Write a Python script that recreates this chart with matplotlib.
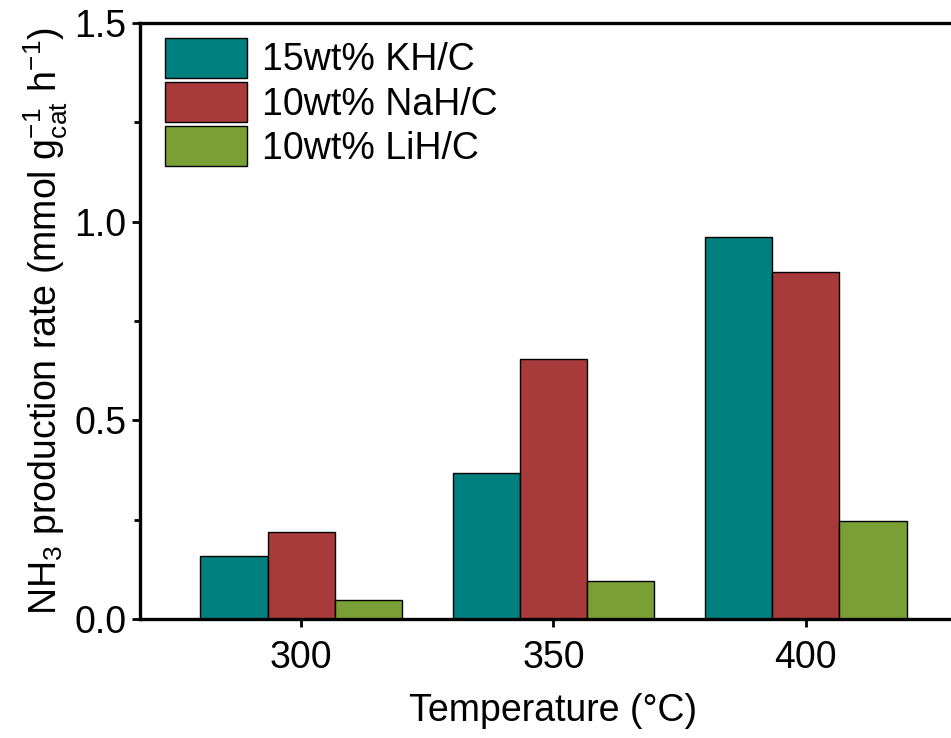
import numpy as np
import matplotlib
matplotlib.use("Agg")
import matplotlib.pyplot as plt

plt.rcParams['font.family'] = ['Liberation Sans', 'DejaVu Sans']
plt.rcParams['mathtext.fontset'] = 'custom'
plt.rcParams['mathtext.rm'] = 'Liberation Sans'
plt.rcParams['mathtext.it'] = 'Liberation Sans'
plt.rcParams['mathtext.default'] = 'regular'

# data
temps = ['300', '350', '400']
kh = [0.159, 0.367, 0.961]
nah = [0.220, 0.654, 0.873]
lih = [0.048, 0.096, 0.247]
labels = ['15wt% KH/C', '10wt% NaH/C', '10wt% LiH/C']
colors = ['#007F7F', '#A83A3B', '#7AA035']

fig = plt.figure(figsize=(9.51, 7.38), dpi=100)
ax = fig.add_axes([0.147, 0.161, 0.870, 0.808])

x = np.arange(len(temps))
w = 0.8 / 3
for i, (vals, lab, c) in enumerate(zip([kh, nah, lih], labels, colors)):
    ax.bar(x + (i - 1) * w, vals, width=w, color=c, edgecolor='black',
           linewidth=1.0, label=lab)

ax.set_xlim(-0.64, 2.64)
ax.set_ylim(0, 1.5)
ax.set_xticks(x)
ax.set_xticklabels(temps)
ax.set_yticks([0, 0.5, 1.0, 1.5])
ax.set_yticks([0.25, 0.75, 1.25], minor=True)
ax.yaxis.set_major_formatter(matplotlib.ticker.FormatStrFormatter('%.1f'))

for s in ax.spines.values():
    s.set_linewidth(2.4)
ax.spines['right'].set_visible(False)
ax.tick_params(axis='both', which='major', direction='out', length=6,
               width=2.0, labelsize=27)
ax.tick_params(axis='x', pad=9)
ax.tick_params(axis='y', which='minor', direction='out', length=4, width=2.0)
ax.tick_params(top=False, right=False)

ax.set_xlabel('Temperature (°C)', fontsize=27, labelpad=12)
ax.set_ylabel(r'NH$_3$ production rate (mmol g$_{cat}^{-1}$ h$^{-1}$)',
              fontsize=27, labelpad=3)

ax.legend(loc='upper left', bbox_to_anchor=(0.012, 1.0), frameon=False,
          fontsize=27, handlelength=2.2, handleheight=1.25, labelspacing=0.1,
          handletextpad=0.4, borderaxespad=0.2, borderpad=0.2)

fig.savefig('out.png', dpi=100)
